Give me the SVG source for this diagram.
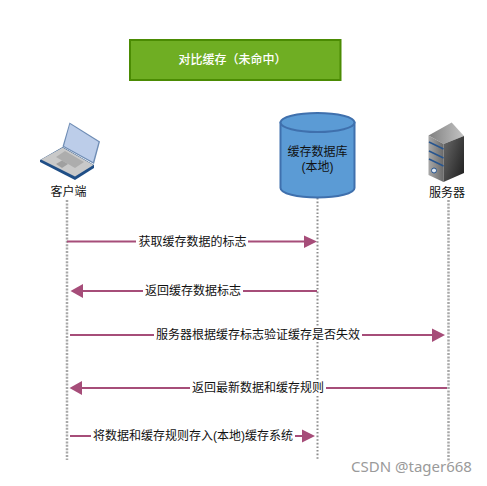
<svg xmlns="http://www.w3.org/2000/svg" width="487" height="486" viewBox="0 0 487 486">
<style>
text{font-family:"Liberation Sans","Noto Sans CJK SC",sans-serif;font-size:12px;fill:#111;text-anchor:middle}
.life{stroke:#a8a8a8;stroke-width:2.500;stroke-dasharray:2 1.400;fill:none}
.dbl{stroke:#8c8c8c;stroke-width:2;stroke-dasharray:1.600 2;fill:none}
.msg{stroke:#a64d79;stroke-width:2;fill:none}
.bg{fill:#fff}
</style>
<defs>
<linearGradient id="srvL" x1="0" y1="0" x2="1" y2="0"><stop offset="0" stop-color="#a8a8a8"/><stop offset="1" stop-color="#6a6a6a"/></linearGradient>
<linearGradient id="srvR" x1="0" y1="0" x2="1" y2="0.7"><stop offset="0" stop-color="#6a6a6a"/><stop offset="1" stop-color="#262626"/></linearGradient>
<linearGradient id="srvT" x1="0" y1="0" x2="1" y2="0"><stop offset="0" stop-color="#808080"/><stop offset="1" stop-color="#c4c4c4"/></linearGradient>
</defs>
<g id="connectors">
<path class="life" d="M67 200V460"/>
<path class="dbl" d="M317.500 198V460"/>
<path class="life" d="M448.500 200V462"/>
<path class="msg" d="M67 241.500H306"/><path d="M304 235.500L317 241.500L304 248Z" fill="#a64d79"/>
<path class="msg" d="M80 291H317"/><path d="M83 284L70.500 291L83 298Z" fill="#a64d79"/>
<path class="msg" d="M70 335H434"/><path d="M432 328.500L445 335L432 342Z" fill="#a64d79"/>
<path class="msg" d="M80 388H447"/><path d="M82 381L69.500 388L82 395Z" fill="#a64d79"/>
<path class="msg" d="M70 436H305"/><path d="M302 429.500L315 436L302 442.500Z" fill="#a64d79"/>
<rect class="bg" x="136" y="234" width="112" height="15"/><text x="192.500" y="246">获取缓存数据的标志</text>
<rect class="bg" x="143" y="283" width="100" height="15"/><text x="193" y="295">返回缓存数据标志</text>
<rect class="bg" x="154" y="327" width="208" height="15"/><text x="258" y="339">服务器根据缓存标志验证缓存是否失效</text>
<rect class="bg" x="190" y="380" width="136" height="15"/><text x="258" y="392">返回最新数据和缓存规则</text>
<rect class="bg" x="91" y="428" width="204" height="15"/><text x="193" y="440">将数据和缓存规则存入(本地)缓存系统</text>
</g>
<g id="title">
<rect x="130" y="40" width="210.500" height="40" fill="#6fae23" stroke="#4b8b03" stroke-width="2"/>
<text x="232.500" y="64" style="fill:#fff;font-weight:500">对比缓存（未命中）</text>
</g>
<g id="client">
<path d="M40 160L62.700 147L94 165V168L75 180L40 162Z" fill="#1f4e86"/>
<path d="M41 159.500L62.700 147.500L93.500 165L75 176.500Z" fill="#c9c9c9"/>
<path d="M56 157L65 151L84 162L75 168Z" fill="#adadad"/>
<path d="M56 164L62 160.500L68 164L62 168Z" fill="#a0a0a0"/>
<path d="M69.500 122.500L100 141.500L94 164L62.500 146.500Z" fill="#6f8db5"/>
<path d="M70 124L98.500 142L93 162L64 146Z" fill="#bccde9"/>
<text x="68.500" y="196">客户端</text>
</g>
<g id="cache">
<path d="M280.500 122.500V188C280.500 193.500 297 197.500 317.500 197.500S354.500 193.500 354.500 188V122.500Z" fill="#5b9bd5" stroke="#3f70ad" stroke-width="2"/>
<ellipse cx="317.500" cy="122.500" rx="37" ry="9.500" fill="#5b9bd5" stroke="#3f70ad" stroke-width="2"/>
<text x="317.500" y="156">缓存数据库</text>
<text x="317.500" y="171">(本地)</text>
</g>
<g id="server">
<path d="M428.500 135.500L451.700 122.500L464 136L443.500 144Z" fill="url(#srvT)"/>
<path d="M428.500 135.500L443.500 144V182L428.500 175Z" fill="url(#srvL)"/>
<path d="M443.500 144L464 136V173L443.500 182Z" fill="url(#srvR)"/>
<path d="M429 142L443.500 149M429 151L443.500 158M429 159L443.500 166" stroke="#27558f" stroke-width="1.500" fill="none"/>
<circle cx="434" cy="170.500" r="2.500" fill="#dfe8f3" stroke="#27558f"/>
<text x="447" y="197">服务器</text>
</g>
<text x="411.500" y="472" style="font-family:'Noto Sans','Open Sans',sans-serif;font-size:15px;fill:#9a9a9a">CSDN @tager668</text>
</svg>
